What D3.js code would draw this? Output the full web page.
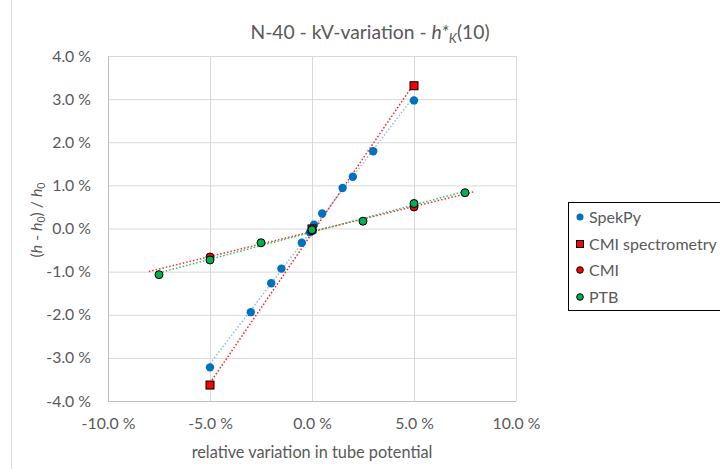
<!DOCTYPE html>
<html><head><meta charset="utf-8">
<script src="https://cdn.jsdelivr.net/npm/d3@7"></script>
<style>
body{margin:0;background:#fff;}
text{font-family:Lato,"Open Sans",sans-serif;}
</style></head>
<body><svg id="c" width="720" height="469"></svg>
<script>
// ---- data ----
const spekX = [-5, -3, -2, -1.5, -0.5, -0.1, 0, 0.1, 0.5, 1.5, 2, 3, 5];
const spekY = [-3.22, -1.94, -1.27, -0.93, -0.33, -0.09, 0.0, 0.09, 0.35, 0.94, 1.2, 1.79, 2.97];
const cmiSpecX = [-5, 0, 5];
const cmiSpecY = [-3.63, -0.01, 3.31];
const cmiX = [-5, 0, 5];
const cmiY = [-0.66, -0.05, 0.50];
const ptbX = [-7.5, -5, -2.5, 0, 2.5, 5, 7.5];
const ptbY = [-1.07, -0.73, -0.33, -0.03, 0.17, 0.58, 0.83];
const xTicks = [-10, -5, 0, 5, 10];
const yTicks = [-4, -3, -2, -1, 0, 1, 2, 3, 4];
const legendNames = ["SpekPy", "CMI spectrometry", "CMI", "PTB"];

const svg = d3.select("#c");
const L = 108, R = 516, T = 56, B = 401;
const x = d3.scaleLinear().domain([-10, 10]).range([L, R]);
const y = d3.scaleLinear().domain([-4, 4]).range([B, T]);
const grey = "#595959";
const fs = "15.8px";

// outer chart border
svg.append("rect").attr("x", 11.5).attr("y", -2).attr("width", 800).attr("height", 480)
  .attr("fill", "none").attr("stroke", "#d9d9d9");

// gridlines
const g = svg.append("g");
g.selectAll(".hy").data(yTicks).join("line")
  .attr("x1", L).attr("x2", R).attr("y1", d => y(d) + 0.5).attr("y2", d => y(d) + 0.5)
  .attr("stroke", "#d9d9d9").attr("stroke-width", 1);
g.selectAll(".vx").data(xTicks).join("line")
  .attr("y1", T).attr("y2", B).attr("x1", d => x(d) + 0.5).attr("x2", d => x(d) + 0.5)
  .attr("stroke", "#d9d9d9").attr("stroke-width", 1);
// axis lines
svg.append("line").attr("x1", L + 0.5).attr("x2", L + 0.5).attr("y1", T).attr("y2", B)
  .attr("stroke", "#bfbfbf");
svg.append("line").attr("x1", L).attr("x2", R).attr("y1", B + 0.5).attr("y2", B + 0.5)
  .attr("stroke", "#bfbfbf");

// axes via d3
const fmt = d => d.toFixed(1) + " %";
const xAxis = svg.append("g").attr("transform", `translate(0,${B})`)
  .call(d3.axisBottom(x).tickValues(xTicks).tickFormat(fmt).tickSize(0).tickPadding(17));
const yAxis = svg.append("g").attr("transform", `translate(${L},0)`)
  .call(d3.axisLeft(y).tickValues(yTicks).tickFormat(fmt).tickSize(0).tickPadding(17));
[xAxis, yAxis].forEach(a => {
  a.select(".domain").remove();
  a.selectAll("text").attr("fill", grey).style("font-size", fs).style("font-family", "Lato,'Open Sans',sans-serif");
});

// trendlines (least squares)
function fit(xs, ys) {
  const n = xs.length, mx = d3.mean(xs), my = d3.mean(ys);
  let sxy = 0, sxx = 0;
  for (let i = 0; i < n; i++) { sxy += (xs[i] - mx) * (ys[i] - my); sxx += (xs[i] - mx) ** 2; }
  const b = sxy / sxx; return [b, my - b * mx];
}
function trend(xs, ys, x0, x1, color) {
  const [b, a] = fit(xs, ys);
  svg.append("line").attr("x1", x(x0)).attr("y1", y(a + b * x0))
    .attr("x2", x(x1)).attr("y2", y(a + b * x1))
    .attr("stroke", color).attr("stroke-width", 1.5).attr("stroke-dasharray", "1.5 2");
}
trend(spekX, spekY, -5, 5, "#8fbde6");
trend(cmiSpecX, cmiSpecY, -5, 5, "#ff2020");
trend(cmiX, cmiY, -8, 8, "#ff3030");
trend(ptbX, ptbY, -7.5, 7.5, "#2fc06a");

// markers
const pts = (xs, ys) => xs.map((v, i) => [v, ys[i]]);
svg.append("g").selectAll("circle").data(pts(spekX, spekY)).join("circle")
  .attr("cx", d => x(d[0])).attr("cy", d => y(d[1])).attr("r", 4.2).attr("fill", "#0070c0");
svg.append("g").selectAll("rect").data(pts(cmiSpecX, cmiSpecY)).join("rect")
  .attr("x", d => x(d[0]) - 4).attr("y", d => y(d[1]) - 4).attr("width", 8).attr("height", 8)
  .attr("fill", "#ff0000").attr("stroke", "#000").attr("stroke-width", 1);
svg.append("g").selectAll("circle").data(pts(cmiX, cmiY)).join("circle")
  .attr("cx", d => x(d[0])).attr("cy", d => y(d[1])).attr("r", 4).attr("fill", "#ff0000")
  .attr("stroke", "#000").attr("stroke-width", 1);
svg.append("g").selectAll("circle").data(pts(ptbX, ptbY)).join("circle")
  .attr("cx", d => x(d[0])).attr("cy", d => y(d[1])).attr("r", 4).attr("fill", "#00b050")
  .attr("stroke", "#000").attr("stroke-width", 1);

// title
const title = svg.append("text").attr("x", 370).attr("y", 39).attr("text-anchor", "middle")
  .attr("fill", grey).style("font-size", "19.3px");
title.append("tspan").text("N-40 - kV-variation - ");
title.append("tspan").attr("font-style", "italic").text("h*");
title.append("tspan").attr("font-style", "italic").attr("dy", 4).style("font-size", "13px").text("K");
title.append("tspan").attr("dy", -4).text("(10)");

// axis titles
svg.append("text").attr("x", 312).attr("y", 458).attr("text-anchor", "middle")
  .attr("fill", grey).style("font-size", "16.3px").text("relative variation in tube potential");
const yt = svg.append("text").attr("transform", "translate(42,220) rotate(-90)")
  .attr("text-anchor", "middle").attr("fill", grey).style("font-size", fs);
yt.append("tspan").text("(");
yt.append("tspan").attr("font-style", "italic").text("h");
yt.append("tspan").text(" - ");
yt.append("tspan").attr("font-style", "italic").text("h");
yt.append("tspan").attr("dy", 3).style("font-size", "10.5px").text("0");
yt.append("tspan").attr("dy", -3).text(") / ");
yt.append("tspan").attr("font-style", "italic").text("h");
yt.append("tspan").attr("dy", 3).style("font-size", "10.5px").text("0");

// legend
svg.append("rect").attr("x", 568.5).attr("y", 202.5).attr("width", 200).attr("height", 108)
  .attr("fill", "#fff").attr("stroke", "#000").attr("stroke-width", 1);
const ly = [217, 244, 270, 297];
const lg = svg.append("g");
legendNames.forEach((name, i) => {
  const cy = ly[i], cx = 580;
  if (i === 0) lg.append("circle").attr("cx", cx).attr("cy", cy).attr("r", 3.5).attr("fill", "#0070c0");
  else if (i === 1) lg.append("rect").attr("x", cx - 3.5).attr("y", cy - 3.5).attr("width", 7).attr("height", 7)
    .attr("fill", "#ff0000").attr("stroke", "#000");
  else lg.append("circle").attr("cx", cx).attr("cy", cy).attr("r", 3.3)
    .attr("fill", i === 2 ? "#ff0000" : "#00b050").attr("stroke", "#000");
  lg.append("text").attr("x", 589).attr("y", cy + 5.5).attr("fill", grey)
    .style("font-size", "16px").text(name);
});
</script></body></html>
